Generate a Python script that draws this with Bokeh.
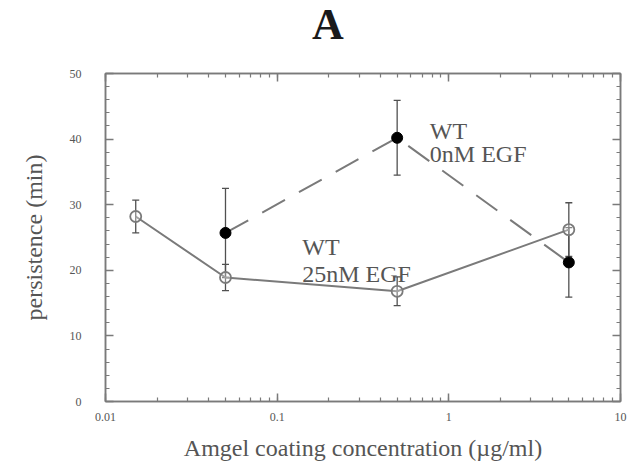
from bokeh.plotting import figure
from bokeh.layouts import column
from bokeh.models import (Range1d, LinearAxis, LogAxis, LogTicker, SingleIntervalTicker,
                          Label, Whisker, ColumnDataSource, TeeHead, CustomJSTickFormatter, Div)
from bokeh.embed import file_html
from bokeh.resources import INLINE

# data
conc_25 = [0.015, 0.05, 0.5, 5.0]
pers_25 = [28.2, 18.9, 16.8, 26.2]
err_25 = [2.5, 2.0, 2.2, 4.1]

conc_0 = [0.05, 0.5, 5.0]
pers_0 = [25.7, 40.2, 21.2]
err_0 = [6.8, 5.7, 5.3]

x_ticks = [0.01, 0.1, 1, 10]
y_ticks = [0, 10, 20, 30, 40, 50]

FONT = "Liberation Serif"
GREY = "#7a7a7a"
TXT = "#555555"

head = Div(text="A", width=628, height=50,
           styles={"font-family": FONT, "font-size": "44px", "font-weight": "bold",
                   "color": "#1a1a1a", "padding-left": "312px", "line-height": "49px",
                   "margin": "0"})

p = figure(width=628, height=415, x_axis_type="log",
           x_range=Range1d(0.01, 10), y_range=Range1d(0, 50),
           output_backend="svg", toolbar_location=None,
           min_border_left=105, min_border_right=8, min_border_top=23, min_border_bottom=64)
p.xgrid.visible = False
p.ygrid.visible = False
p.outline_line_color = GREY
p.outline_line_width = 1.5
p.background_fill_color = "white"
p.border_fill_color = "white"

num_fmt = CustomJSTickFormatter(code="return tick.toString();")

def style_axis(ax, labels=True):
    ax.axis_line_color = GREY
    ax.axis_line_width = 1.5
    ax.major_tick_in = 8
    ax.major_tick_out = 0
    ax.minor_tick_in = 4
    ax.minor_tick_out = 0
    ax.major_tick_line_color = GREY
    ax.minor_tick_line_color = GREY
    ax.major_tick_line_width = 1.5
    ax.minor_tick_line_width = 1.2
    ax.major_label_text_font = FONT
    ax.major_label_text_font_size = "12px"
    ax.major_label_text_color = TXT
    ax.axis_label_text_font = FONT
    ax.axis_label_text_font_size = "24px"
    ax.axis_label_text_font_style = "normal"
    ax.axis_label_text_color = TXT
    if labels:
        ax.formatter = num_fmt
    else:
        ax.formatter = CustomJSTickFormatter(code="return '';")
        ax.major_label_standoff = 0
        ax.major_label_text_color = None

xa = p.xaxis[0]
xa.ticker = LogTicker(desired_num_ticks=4, num_minor_ticks=10)
xa.axis_label = "Amgel coating concentration (\u00b5g/ml)"
style_axis(xa)
xa.major_label_standoff = 11
xa.axis_label_standoff = 11

ya = p.yaxis[0]
ya.ticker = SingleIntervalTicker(interval=10, num_minor_ticks=5)
ya.axis_label = "persistence (min)"
style_axis(ya)
ya.major_label_standoff = 24
ya.axis_label_standoff = 20

top = LogAxis(ticker=LogTicker(desired_num_ticks=4, num_minor_ticks=10))
style_axis(top, labels=False)
p.add_layout(top, "above")
right = LinearAxis(ticker=SingleIntervalTicker(interval=10, num_minor_ticks=5))
style_axis(right, labels=False)
p.add_layout(right, "right")

# lines
p.line(conc_0, pers_0, line_color=GREY, line_width=2, line_dash="26 16")
p.line(conc_25, pers_25, line_color=GREY, line_width=2)

# error bars
src25 = ColumnDataSource(dict(x=conc_25, lo=[v - e for v, e in zip(pers_25, err_25)],
                              hi=[v + e for v, e in zip(pers_25, err_25)]))
src0 = ColumnDataSource(dict(x=conc_0, lo=[v - e for v, e in zip(pers_0, err_0)],
                             hi=[v + e for v, e in zip(pers_0, err_0)]))
for s in (src25, src0):
    w = Whisker(source=s, base="x", lower="lo", upper="hi", line_color="#505050", line_width=1.3,
                upper_head=TeeHead(size=7, line_color="#505050", line_width=1.3),
                lower_head=TeeHead(size=7, line_color="#505050", line_width=1.3))
    p.add_layout(w)

p.scatter(conc_25, pers_25, size=11, marker="circle", fill_color="white", fill_alpha=0.3,
          line_color=GREY, line_width=1.8)
p.scatter(conc_0, pers_0, size=11, marker="circle", fill_color="black", line_color="black")

# annotations
for txt, x, y in [("WT", 0.775, 41.3), ("0nM EGF", 0.775, 37.8),
                  ("WT", 0.14, 23.6), ("25nM EGF", 0.14, 19.5)]:
    p.add_layout(Label(x=x, y=y, text=txt, text_font=FONT, text_font_size="24px",
                       text_color=TXT, text_baseline="alphabetic", text_align="left"))

layout = column(head, p, spacing=0)
open("out.html", "w").write(file_html(layout, INLINE))
